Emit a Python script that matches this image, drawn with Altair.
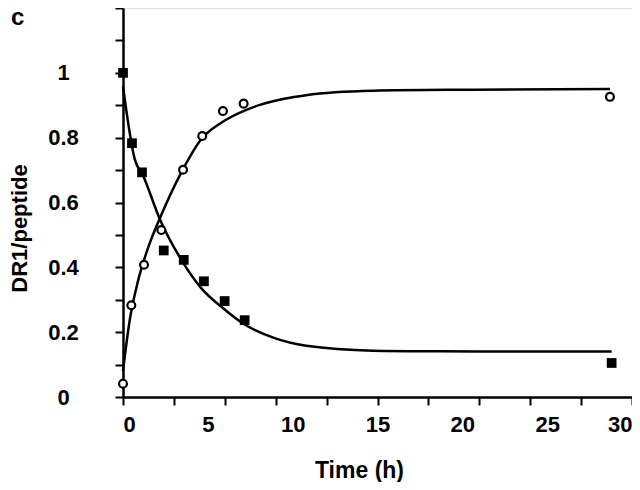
import altair as alt
import pandas as pd

# Data
sq_t = [0, 0.53, 1.12, 2.4, 3.58, 4.77, 5.99, 7.17, 28.8]
sq_y = [1.0, 0.783, 0.693, 0.452, 0.423, 0.357, 0.296, 0.237, 0.105]

ci_t = [0, 0.49, 1.24, 2.26, 3.54, 4.67, 5.89, 7.11, 28.7]
ci_y = [0.041, 0.283, 0.408, 0.515, 0.701, 0.805, 0.882, 0.905, 0.926]

dec_t = [0, 0.69, 1.18, 2.16, 3.44, 4.61, 5.99, 7.1, 8.86, 10.8, 14.75, 18.7, 22.6, 28.8]
dec_y = [0.958, 0.734, 0.683, 0.55, 0.423, 0.336, 0.270, 0.226, 0.183, 0.158, 0.143, 0.141, 0.140, 0.140]

ris_t = [0, 0.39, 0.88, 1.47, 1.96, 2.16, 3.44, 4.61, 5.79, 7.27, 8.07, 9.5, 10.8, 12.5, 14.75, 20.6, 28.7]
ris_y = [0.08, 0.235, 0.357, 0.459, 0.525, 0.55, 0.693, 0.795, 0.846, 0.886, 0.901, 0.920, 0.931, 0.940, 0.945, 0.948, 0.950]

x_values = [0, 3, 5, 6, 9, 10, 12, 15, 18, 20, 21, 24, 25, 27, 30]
y_values = [round(i * 0.1, 1) for i in range(13)]

panel_label = ["c"]

FONT = "Liberation Sans"

sq = pd.DataFrame({"t": sq_t, "v": sq_y})
ci = pd.DataFrame({"t": ci_t, "v": ci_y})
dec = pd.DataFrame({"t": dec_t, "v": dec_y})
ris = pd.DataFrame({"t": ris_t, "v": ris_y})
lab = pd.DataFrame({"label": panel_label})

x_axis = alt.Axis(
    values=x_values,
    labelExpr="datum.value % 5 == 0 ? datum.label : ''",
    tickOpacity={"condition": {"test": "datum.value % 3 == 0", "value": 1}, "value": 0},
    labelFlush=True,
    labelOverlap=False,
    labelFont=FONT, labelFontSize=22, labelFontWeight="bold", labelColor="black",
    labelPadding=9,
    tickSize=8, tickWidth=2, tickColor="black",
    domainWidth=2.5, domainColor="black",
    grid=False,
    title="Time (h)", titleFont=FONT, titleFontSize=23, titleFontWeight="bold",
    titleColor="black", titleX=236, titleY=80, titleBaseline="alphabetic",
)
y_axis = alt.Axis(
    values=y_values,
    format="~g",
    labelExpr="(round(datum.value*10) % 2 == 0 && datum.value < 1.05) ? datum.label : ''",
    labelOverlap=False,
    labelAlign="center", labelBaseline="middle", labelPadding=52,
    labelFont=FONT, labelFontSize=22, labelFontWeight="bold", labelColor="black",
    tickSize=8, tickWidth=2, tickColor="black",
    domainWidth=2.5, domainColor="black",
    grid=False,
    title="DR1/peptide", titleFont=FONT, titleFontSize=22, titleFontWeight="bold",
    titleColor="black", titleAngle=270, titleX=-97, titleY=220,
    titleBaseline="alphabetic", titleAlign="center",
)

X = alt.X("t:Q", scale=alt.Scale(domain=[0, 30], nice=False, zero=False), axis=x_axis)
Y = alt.Y("v:Q", scale=alt.Scale(domain=[0, 1.2], nice=False), axis=y_axis)

dec_line = alt.Chart(dec).mark_line(color="black", strokeWidth=2.5, interpolate="monotone").encode(x=X, y=Y)
ris_line = alt.Chart(ris).mark_line(color="black", strokeWidth=2.5, interpolate="monotone").encode(x=X, y=Y)
sq_pts = alt.Chart(sq).mark_point(shape="square", filled=True, color="black", size=95, opacity=1).encode(x=X, y=Y)
ci_pts = alt.Chart(ci).mark_point(shape="circle", filled=False, fill="white", fillOpacity=1,
                                  stroke="black", strokeWidth=2.2, size=62, opacity=1).encode(x=X, y=Y)
label = alt.Chart(lab).mark_text(
    font=FONT, fontSize=24, fontWeight="bold", color="black", align="left", baseline="alphabetic"
).encode(text="label:N", x=alt.value(-112), y=alt.value(17))

chart = alt.layer(dec_line, ris_line, sq_pts, ci_pts, label).properties(
    width=509,
    height=389,
    autosize="none",
    padding={"left": 115, "top": 0, "right": 0, "bottom": 85},
).configure_view(stroke=None).configure(background="white")

chart.save("out.html", embed_options={"renderer": "svg", "actions": False})
